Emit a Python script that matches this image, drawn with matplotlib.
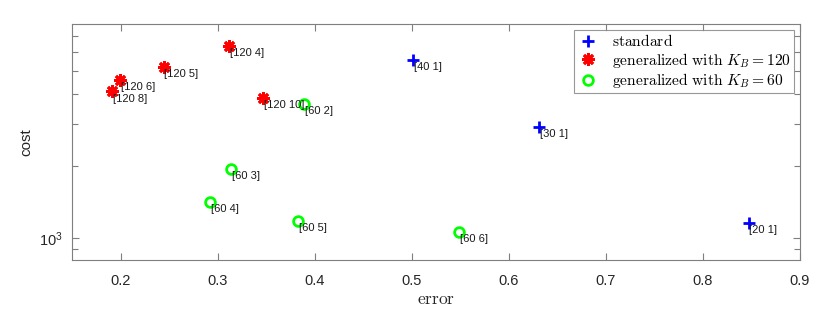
import numpy as np
import matplotlib
matplotlib.use("Agg")
import matplotlib.pyplot as plt
from matplotlib.ticker import LogLocator, NullFormatter, FixedLocator

# data
std_err = [0.501, 0.631, 0.847]
std_cost = [5580, 2927, 1150]
std_lbl = ["[40 1]", "[30 1]", "[20 1]"]

g120_err = [0.312, 0.244, 0.199, 0.191, 0.347]
g120_cost = [6345, 5200, 4598, 4107, 3852]
g120_lbl = ["[120 4]", "[120 5]", "[120 6]", "[120 8]", "[120 10]"]

g60_err = [0.389, 0.314, 0.292, 0.383, 0.549]
g60_cost = [3646, 1944, 1408, 1175, 1060]
g60_lbl = ["[60 2]", "[60 3]", "[60 4]", "[60 5]", "[60 6]"]

plt.rcParams["font.family"] = ["Liberation Sans", "DejaVu Sans"]
plt.rcParams["mathtext.fontset"] = "cm"

fig = plt.figure(figsize=(8.3, 3.14), dpi=100)
ax = fig.add_axes([0.0871, 0.171, 0.8768, 0.7535])

ax.plot(std_err, std_cost, ls="none", marker="+", ms=9, mew=2, color="#0000ff",
        label=r"$\mathrm{standard}$")
ax.plot(g120_err, g120_cost, ls="none", marker=(8, 2, 0), ms=9, mew=2.0, color="#ff0000",
        label=r"$\mathrm{generalized\ with\ }K_B=120$")
ax.plot(g60_err, g60_cost, ls="none", marker="o", ms=7, mew=2, mfc="none", mec="#00ff00",
        label=r"$\mathrm{generalized\ with\ }K_B=60$")

for xs, ys, ls in [(std_err, std_cost, std_lbl), (g120_err, g120_cost, g120_lbl),
                   (g60_err, g60_cost, g60_lbl)]:
    for x, y, t in zip(xs, ys, ls):
        ax.annotate(t, (x, y), xytext=(0.5, -1.5), textcoords="offset points",
                    ha="left", va="top", fontsize=8, color="#1a1a1a")

ax.set_yscale("log")
ax.set_xlim(0.15, 0.9)
ax.set_ylim(805, 7900)
ax.set_xticks(np.arange(0.2, 0.91, 0.1))
ax.set_xticklabels(["0.2", "0.3", "0.4", "0.5", "0.6", "0.7", "0.8", "0.9"])
ax.yaxis.set_major_locator(FixedLocator([1000]))
ax.yaxis.set_minor_locator(LogLocator(base=10, subs=np.arange(2, 10)))
ax.yaxis.set_minor_formatter(NullFormatter())

edge = "#7f7f7f"
for s in ax.spines.values():
    s.set_color(edge)
    s.set_linewidth(0.8)
ax.tick_params(which="both", direction="in", top=True, right=True, color=edge,
               labelsize=10.5, labelcolor="#262626", width=0.8)
ax.tick_params(which="major", length=5)
ax.tick_params(which="minor", length=4)
ax.tick_params(axis="x", which="major", pad=10)
ax.tick_params(axis="y", which="major", pad=7)

ax.set_xlabel(r"$\mathrm{error}$", fontsize=12.5, color="#262626", labelpad=3)
ax.set_ylabel("cost", fontsize=11, color="#262626", labelpad=4)

leg = ax.legend(loc="upper right", fontsize=11.2, frameon=True, fancybox=False,
                edgecolor=edge, borderaxespad=0.4, handlelength=1.3, handletextpad=0.9,
                labelspacing=0.1, borderpad=0.2)
leg.get_frame().set_linewidth(0.8)

plt.savefig("out.png", dpi=100)
